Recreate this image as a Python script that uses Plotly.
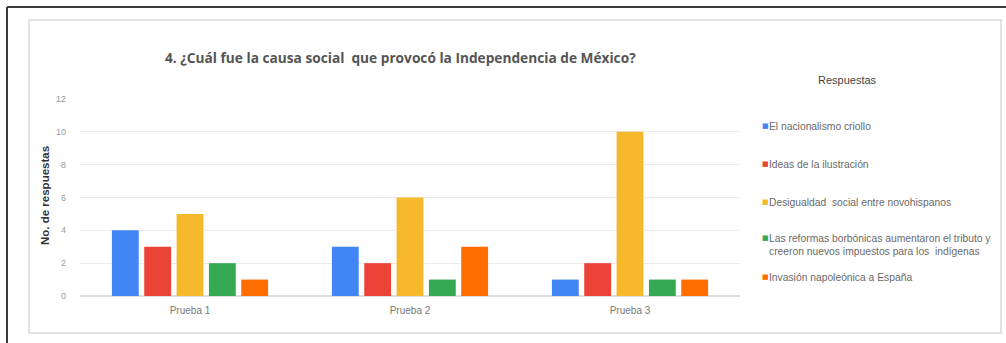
import plotly.graph_objects as go

# Survey results per test round
pruebas = ["Prueba 1", "Prueba 2", "Prueba 3"]
series_names = [
    "El nacionalismo criollo",
    "Ideas de la ilustración",
    "Desigualdad  social entre novohispanos",
    "Las reformas borbónicas aumentaron el tributo y<br>creeron nuevos impuestos para los  indígenas",
    "Invasión napoleónica a España",
]
nacionalismo = [4, 3, 1]
ilustracion = [3, 2, 2]
desigualdad = [5, 6, 10]
reformas = [2, 1, 1]
invasion = [1, 3, 1]
colors = ["#4285F4", "#EA4335", "#F6B92B", "#34A853", "#FF6D01"]

values = [nacionalismo, ilustracion, desigualdad, reformas, invasion]

# Plot-area geometry in pixels (used to place decorations in paper units)
W, H = 1006, 343
L, R, T, B = 80, 266, 99, 47
pw, ph = W - L - R, H - T - B


def px(x):
    return (x - L) / pw


def py(y):
    return (H - B - y) / ph


fig = go.Figure()
for name, vals, col in zip(series_names, values, colors):
    fig.add_trace(go.Bar(x=pruebas, y=vals, name=name, marker_color=col,
                         marker_line_width=0, showlegend=False))

annotations = [
    dict(text="<b>4. ¿Cuál fue la causa social  que provocó la Independencia de México?</b>",
         x=px(400), y=py(57), xref="paper", yref="paper", xanchor="center",
         yanchor="middle", showarrow=False,
         font=dict(family="Open Sans", size=13.7, color="#555555")),
    dict(text="<b>No. de respuestas</b>", textangle=-90,
         x=px(45), y=py(196), xref="paper", yref="paper", xanchor="center",
         yanchor="middle", showarrow=False,
         font=dict(family="Liberation Sans", size=11.5, color="#333333")),
    dict(text="Respuestas", x=px(847), y=py(80), xref="paper", yref="paper",
         xanchor="center", yanchor="middle", showarrow=False,
         font=dict(family="Liberation Sans", size=11, color="#444444")),
]

# Legend entries: colored square + label
legend_y = [126, 164, 202, 245, 277]
for name, col, yy in zip(series_names, colors, legend_y):
    sq_y = yy if "<br>" not in name else yy - 7
    annotations.append(dict(text="■", x=px(760), y=py(sq_y), xref="paper", yref="paper",
                            xanchor="left", yanchor="middle", showarrow=False,
                            font=dict(family="DejaVu Sans", size=7, color=col)))
    annotations.append(dict(text=name, x=px(767), y=py(yy), xref="paper", yref="paper",
                            xanchor="left", yanchor="middle", align="left", showarrow=False,
                            font=dict(family="Liberation Sans", size=10.3, color="#6A6A6A")))

shapes = [
    # chart card
    dict(type="rect", xref="paper", yref="paper",
         x0=px(29), x1=px(1001), y0=py(333), y1=py(20),
         line=dict(color="#DADADA", width=1.5), layer="below"),
    # outer frame, top and left edges
    dict(type="line", xref="paper", yref="paper",
         x0=px(7), x1=px(1006), y0=py(7), y1=py(7),
         line=dict(color="#3A3A3A", width=2)),
    dict(type="line", xref="paper", yref="paper",
         x0=px(7), x1=px(7), y0=py(7), y1=py(343),
         line=dict(color="#3A3A3A", width=2)),
]

fig.update_layout(
    width=W, height=H,
    margin=dict(l=L, r=R, t=T, b=B),
    paper_bgcolor="white", plot_bgcolor="white",
    barmode="group", bargap=0.265, bargroupgap=0.17,
    annotations=annotations, shapes=shapes,
    font=dict(family="Liberation Sans"),
)
fig.update_xaxes(showgrid=False, showline=False, ticks="",
                 ticklabelstandoff=7,
                 tickfont=dict(size=10, color="#777777"))
fig.update_yaxes(range=[0, 12], dtick=2, showgrid=True, gridcolor="#EBEBEB",
                 zeroline=True, zerolinecolor="#DDDDDD", showline=False,
                 ticklabelstandoff=13,
                 tickfont=dict(size=9, color="#999999"))

fig.write_html("out.html")
